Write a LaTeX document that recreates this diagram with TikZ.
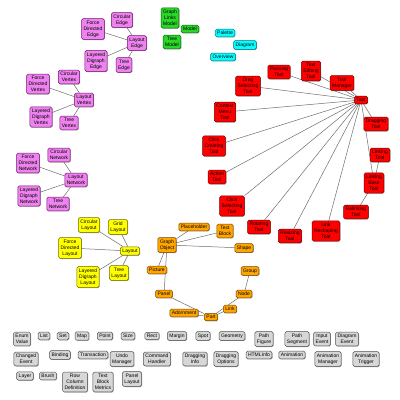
\documentclass[tikz,border=0pt]{standalone}
\usepackage{fontspec}
\setmainfont{Liberation Sans}
\usetikzlibrary{backgrounds,shadows}
\definecolor{vfill}{RGB}{238,130,238}
\definecolor{vdraw}{RGB}{110,20,110}
\definecolor{yfill}{RGB}{255,255,0}
\definecolor{ydraw}{RGB}{110,110,0}
\definecolor{gfill}{RGB}{40,215,40}
\definecolor{gdraw}{RGB}{10,90,10}
\definecolor{cfill}{RGB}{0,255,255}
\definecolor{cdraw}{RGB}{0,110,120}
\definecolor{rfill}{RGB}{255,0,0}
\definecolor{rdraw}{RGB}{120,0,0}
\definecolor{ofill}{RGB}{255,165,0}
\definecolor{odraw}{RGB}{120,70,0}
\definecolor{kfill}{RGB}{215,215,215}
\definecolor{kdraw}{RGB}{80,80,80}
\definecolor{edgecol}{RGB}{110,110,110}
\tikzset{
  box/.style={draw, rounded corners=1.5pt, align=center, line width=0.5pt,
    font=\fontsize{5}{6.2}\selectfont, inner xsep=2pt, inner ysep=2pt, text=black,
    drop shadow={shadow xshift=0.6pt, shadow yshift=-0.6pt, opacity=0.35, fill=black}},
  vio/.style={box, fill=vfill, draw=vdraw},
  yel/.style={box, fill=yfill, draw=ydraw},
  grn/.style={box, fill=gfill, draw=gdraw},
  cyn/.style={box, fill=cfill, draw=cdraw},
  rednode/.style={box, fill=rfill, draw=rdraw},
  org/.style={box, fill=ofill, draw=odraw},
  gry/.style={box, fill=kfill, draw=kdraw},
  conn/.style={draw=edgecol, line width=0.5pt}
}
\begin{document}
\begin{tikzpicture}[x=1pt,y=-1pt]
\useasboundingbox (0,0) rectangle (400,400);
% violet: edges
\node[vio] (eC) at (122,20) {Circular\\Edge};
\node[vio] (eF) at (93,29) {Force\\Directed\\Edge};
\node[vio] (eL) at (137,43) {Layout\\Edge};
\node[vio] (eD) at (96,61) {Layered\\Digraph\\Edge};
\node[vio] (eT) at (124,65) {Tree\\Edge};
% violet: vertices
\node[vio] (vC) at (69,77) {Circular\\Vertex};
\node[vio] (vF) at (38,84) {Force\\Directed\\Vertex};
\node[vio] (vL) at (84,100) {Layout\\Vertex};
\node[vio] (vD) at (41,117) {Layered\\Digraph\\Vertex};
\node[vio] (vT) at (69,123) {Tree\\Vertex};
% violet: networks
\node[vio] (nC) at (59,155) {Circular\\Network};
\node[vio] (nF) at (28,163) {Force\\Directed\\Network};
\node[vio] (nL) at (76,180) {Layout\\Network};
\node[vio] (nD) at (29,196) {Layered\\Digraph\\Network};
\node[vio] (nT) at (58,204) {Tree\\Network};
% yellow
\node[yel] (lC) at (89,225) {Circular\\Layout};
\node[yel] (lG) at (118,227) {Grid\\Layout};
\node[yel] (lF) at (70,248) {Force\\Directed\\Layout};
\node[yel] (lay) at (130,251) {Layout};
\node[yel] (lD) at (88,277) {Layered\\Digraph\\Layout};
\node[yel] (lT) at (119,273) {Tree\\Layout};
% green
\node[grn] (gGL) at (170,18) {Graph\\Links\\Model};
\node[grn] (gM) at (190,29) {Model};
\node[grn] (gT) at (172,42) {Tree\\Model};
% cyan
\node[cyn] (cP) at (225,33) {Palette};
\node[cyn] (cD) at (245,45) {Diagram};
\node[cyn] (cO) at (223,57) {Overview};
% red
\node[rednode] (tPan) at (279,72) {Panning\\Tool};
\node[rednode] (tTE) at (311,71) {Text\\Editing\\Tool};
\node[rednode] (tTM) at (342,83) {Tool\\Manager};
\node[rednode] (tDS) at (248,86) {Drag\\Selecting\\Tool};
\node[rednode] (tool) at (361,100) {Tool};
\node[rednode] (tDrag) at (376,124) {Dragging\\Tool};
\node[rednode] (tCM) at (225,112) {Context\\Menu\\Tool};
\node[rednode] (tCC) at (214,146) {Click\\Creating\\Tool};
\node[rednode] (tLink) at (380,155) {Linking\\Tool};
\node[rednode] (tAct) at (217,177) {Action\\Tool};
\node[rednode] (tLB) at (374,183) {Linking\\Base\\Tool};
\node[rednode] (tCS) at (232,206) {Click\\Selecting\\Tool};
\node[rednode] (tRel) at (356,212) {Relinking\\Tool};
\node[rednode] (tRot) at (259,227) {Rotating\\Tool};
\node[rednode] (tRes) at (290,236) {Resizing\\Tool};
\node[rednode] (tLR) at (326,231) {Link\\Reshaping\\Tool};
% orange
\node[org] (oPH) at (194,227) {Placeholder};
\node[org] (oTB) at (225,231) {Text\\Block};
\node[org] (oGO) at (167,245) {Graph\\Object};
\node[org] (oSh) at (244,248) {Shape};
\node[org] (oPic) at (157,270) {Picture};
\node[org] (oGr) at (250,271) {Group};
\node[org] (oPan) at (164,294) {Panel};
\node[org] (oNode) at (244,294) {Node};
\node[org] (oLink) at (230,309) {Link};
\node[org] (oAd) at (184,313) {Adornment};
\node[org] (oPart) at (211,317) {Part};
% gray row 1
\node[gry] (k1) at (22,339) {Enum\\Value};
\node[gry] (k2) at (44,336) {List};
\node[gry] (k3) at (63,336) {Set};
\node[gry] (k4) at (82,336) {Map};
\node[gry] (k5) at (105,336) {Point};
\node[gry] (k6) at (128,336) {Size};
\node[gry] (k7) at (152,336) {Rect};
\node[gry] (k8) at (177,336) {Margin};
\node[gry] (k9) at (203,336) {Spot};
\node[gry] (k10) at (232,336) {Geometry};
\node[gry] (k11) at (264,339) {Path\\Figure};
\node[gry] (k12) at (297,339) {Path\\Segment};
\node[gry] (k13) at (322,339) {Input\\Event};
\node[gry] (k14) at (347,339) {Diagram\\Event};
% gray row 2
\node[gry] (m1) at (26,359) {Changed\\Event};
\node[gry] (m2) at (60,355) {Binding};
\node[gry] (m3) at (93,355) {Transaction};
\node[gry] (m4) at (122,359) {Undo\\Manager};
\node[gry] (m5) at (157,359) {Command\\Handler};
\node[gry] (m6) at (195,359) {Dragging\\Info};
\node[gry] (m7) at (226,359) {Dragging\\Options};
\node[gry] (m8) at (259,355) {HTMLInfo};
\node[gry] (m9) at (292,355) {Animation};
\node[gry] (m10) at (328,359) {Animation\\Manager};
\node[gry] (m11) at (366,359) {Animation\\Trigger};
% gray row 3
\node[gry] (r1) at (25,376) {Layer};
\node[gry] (r2) at (48,376) {Brush};
\node[gry] (r3) at (75,382) {Row\\Column\\Definition};
\node[gry] (r4) at (103,382) {Text\\Block\\Metrics};
\node[gry] (r5) at (132,379) {Panel\\Layout};
% connectors
\begin{scope}[on background layer]
\fill[white] (0,0) rectangle (400,400);
\foreach \c in {eC,eF,eD,eT} \path[conn] (eL) -- (\c);
\foreach \c in {vC,vF,vD,vT} \path[conn] (vL) -- (\c);
\foreach \c in {nC,nF,nD,nT} \path[conn] (nL) -- (\c);
\foreach \c in {lC,lG,lF,lD,lT} \path[conn] (lay) -- (\c);
\foreach \c in {tPan,tTE,tTM,tDS,tDrag,tCM,tCC,tAct,tLB,tCS,tRot,tRes,tLR} \path[conn] (tool) -- (\c);
\path[conn] (tLB) -- (tLink);
\path[conn] (tLB) -- (tRel);
\foreach \c in {oPH,oTB,oSh,oPic,oPan} \path[conn] (oGO) -- (\c);
\foreach \c in {oAd,oLink,oNode} \path[conn] (oPart) -- (\c);
\path[conn] (oPan) -- (oPart);
\path[conn] (oNode) -- (oGr);
\end{scope}
\end{tikzpicture}
\end{document}
